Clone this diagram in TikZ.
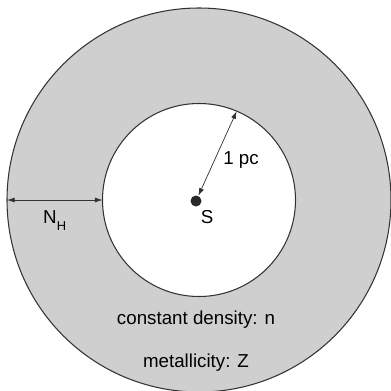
\documentclass[tikz,border=0pt]{standalone}
\usepackage{fontspec}
\setmainfont{Liberation Sans}
\usetikzlibrary{arrows.meta,positioning}
\definecolor{shellgray}{HTML}{CFCFCF}
\definecolor{rimgray}{HTML}{333333}

\begin{document}
\begin{tikzpicture}[x=0.03cm, y=-0.03cm, >={Latex[length=2.3mm,width=1.5mm]},
    every node/.style={font=\fontsize{16}{19}\selectfont},
    ring/.style={draw=rimgray, line width=0.9pt, circle, inner sep=0pt, outer sep=0pt},
    dim/.style={<->, rimgray, line width=0.6pt}]
\useasboundingbox (0,0) rectangle (391,391);
% shell and cavity
\node[ring, fill=shellgray, minimum size=384*0.03cm] (outer) at (199,200) {};
\node[ring, fill=white, minimum size=193*0.03cm] (inner) at (199,200) {};
\node[circle, fill=rimgray!80!black, minimum size=11*0.03cm, inner sep=0pt] (src) at (196,201) {};
% sizes
\draw[dim] (outer.west) -- (inner.west);
\draw[dim] (src) -- (inner.67);
\node[anchor=base west, inner sep=0pt] (nh) at (43,223) {N\raisebox{-6pt}{\fontsize{11}{13}\selectfont H}};
\node (pc) at (241,160) {1 pc};
\node (s) at (207,217) {S};
\node (dens) at (196,320) {constant density: n};
\node (met) at (196,363) {metallicity: Z};
\end{tikzpicture}
\end{document}
